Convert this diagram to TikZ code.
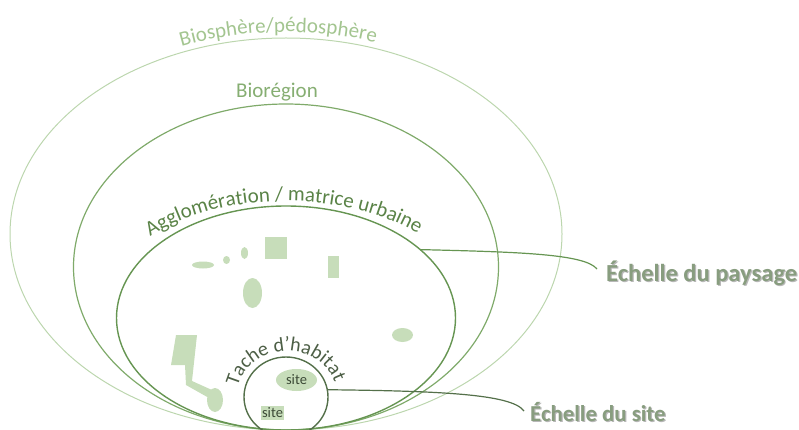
\documentclass[tikz,border=0pt]{standalone}
\usepackage{fontspec}
\setmainfont{Carlito}
\usetikzlibrary{shapes.geometric,decorations.text}
\definecolor{bioc}{HTML}{BCD6AE}
\definecolor{biot}{HTML}{A3C590}
\definecolor{regc}{HTML}{7FAA6A}
\definecolor{regt}{HTML}{86AE72}
\definecolor{aggc}{HTML}{669552}
\definecolor{aggt}{HTML}{5A8347}
\definecolor{tacc}{HTML}{54704A}
\definecolor{tact}{HTML}{4D5F46}
\definecolor{patchc}{HTML}{C7DDBA}
\definecolor{labc}{HTML}{889D7F}
\definecolor{labsh}{HTML}{B8B8B8}
\definecolor{sitet}{HTML}{3C4A36}
\begin{document}
\begin{tikzpicture}[x=1pt,y=1pt,
  ring/.style={ellipse, inner sep=0pt, outer sep=0pt},
  patch/.style={fill=patchc, draw=none},
  bigfont/.style={font=\fontsize{24.5}{28}\selectfont\bfseries, inner sep=0pt},
  smallbig/.style={font=\fontsize{22.8}{27}\selectfont\bfseries, inner sep=0pt},
  sitelab/.style={font=\fontsize{14.5}{16}\selectfont, text=sitet, fill=patchc}]
\useasboundingbox (0,0) rectangle (799,-430);
\begin{scope}
\clip (0,0) rectangle (799,-430);
% rings
\node[ring, draw=bioc, line width=1pt, minimum width=552, minimum height=392] (bio) at (286,-234) {};
\node[ring, draw=regc, line width=1.2pt, minimum width=425, minimum height=326] (reg) at (286,-267) {};
\node[ring, draw=aggc, line width=1.4pt, minimum width=339, minimum height=224] (agg) at (286,-318) {};
% patches
\fill[patch] (203,-265) ellipse [x radius=11, y radius=3.5];
\fill[patch] (226.5,-260) ellipse [x radius=3.5, y radius=4];
\fill[patch] (244.5,-253) ellipse [x radius=3.5, y radius=6];
\fill[patch] (265,-237) rectangle (287,-259);
\fill[patch] (328,-256) rectangle (339,-278);
\fill[patch] (252.5,-293) ellipse [x radius=9.5, y radius=15];
\fill[patch] (402.5,-335) ellipse [x radius=10.5, y radius=7];
\fill[patch] (176,-335) -- (197,-335) -- (192,-381) -- (212,-390) -- (209,-398) -- (186,-385) -- (185,-365) -- (171,-365) -- cycle;
\fill[patch] (215,-400) ellipse [x radius=8, y radius=12];
% habitat patch
\node[ring, draw=tacc, line width=1.4pt, minimum width=84, minimum height=80] (tac) at (286,-397) {};
\node[sitelab, ellipse, inner sep=0pt, minimum width=41, minimum height=22] (site1) at (296.5,-380) {site};
\node[sitelab, rectangle, inner sep=1.5pt] (site2) at (272.5,-413) {site};
\end{scope}
% curved labels
\path[decorate, decoration={text along path, text align=center,
  text={|\fontsize{21}{25}\selectfont\color{biot}|Biosphère/pédosphère}}]
  (286,-234) ++(152:282 and 202) arc[start angle=152, end angle=32, x radius=282, y radius=202];
\node[font=\fontsize{21}{25}\selectfont, text=regt, anchor=base, inner sep=0pt] (regl) at (277,-98) {Biorégion};
\path[decorate, decoration={text along path, text align=center,
  text={|\fontsize{21}{25}\selectfont\color{aggt}|Agglomération / matrice urbaine}}]
  (286,-318) ++(160:190 and 117) arc[start angle=160, end angle=22, x radius=190, y radius=117];
\path[decorate, decoration={text along path, text align=center,
  text={|\fontsize{20}{24}\selectfont\color{tact}|Tache d’habitat}}]
  (287,-396) ++(183:50 and 45) arc[start angle=183, end angle=3, x radius=50, y radius=45];
% scale labels
\node[bigfont, text=labsh, anchor=base west] (paysh) at (607.2,-282.2) {Échelle du paysage};
\node[bigfont, text=labc, anchor=base west] (pay) at (606,-281) {Échelle du paysage};
\node[smallbig, text=labsh, anchor=base west] (sitsh) at (531.2,-422.2) {Échelle du site};
\node[smallbig, text=labc, anchor=base west] (sit) at (530,-421) {Échelle du site};
\coordinate (payend) at (597,-269);
\coordinate (sitend) at (524,-411);
\draw[aggc, line width=1.2pt] (agg.27) .. controls (520,-252) and (585,-254) .. (payend);
\draw[tacc, line width=1.2pt] (tac.10) .. controls (440,-391) and (512,-394) .. (sitend);
\end{tikzpicture}
\end{document}
